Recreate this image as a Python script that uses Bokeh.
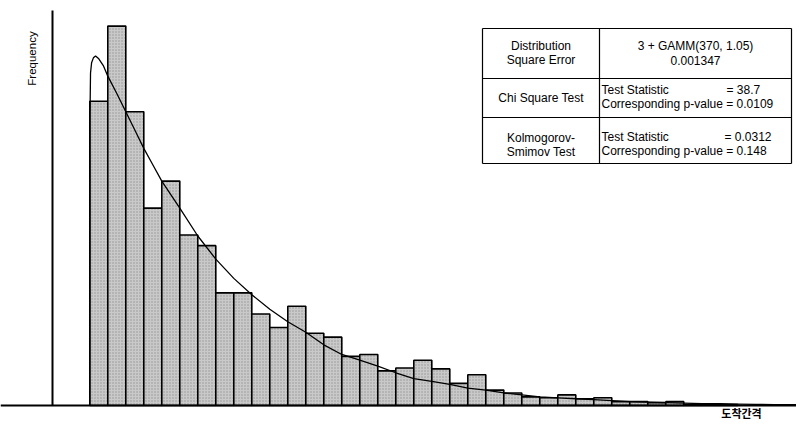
from bokeh.plotting import figure
from bokeh.models import Range1d, Label
from bokeh.embed import file_html
from bokeh.resources import INLINE
import math

# ---- data (bin index on x, frequency in relative units) ----
freq = [316, 394, 305, 205, 233, 177, 166, 117, 117, 95, 81, 103, 75, 71, 51, 53,
        36, 39, 47, 38, 23, 32, 16, 13, 9, 8, 11, 7, 8, 4, 4, 3, 4, 1, 1, 1]
bin_left = list(range(len(freq)))
bin_right = [b + 1 for b in bin_left]

# fitted density curve (3 + GAMM(370, 1.05))
curve_x = [0, 0.01, 0.04, 0.1, 0.2, 0.32, 0.5, 0.75, 1, 1.5, 2, 2.5, 3, 3.5, 4, 5, 6, 7, 8,
           9, 10, 11, 12, 13, 14, 15, 16, 17, 18, 19, 20, 21, 22, 23, 24, 25, 26, 27, 28,
           29, 30, 31, 32, 33, 34, 35, 36, 37, 38, 39.7]
curve_y = [0, 300, 345, 356, 361, 363, 360, 353, 342, 324, 305, 286, 267, 250, 233, 205,
           176, 152, 132, 115, 100, 87, 76, 63, 53, 47, 41, 34, 28, 25, 22, 18, 16, 13, 11,
           9, 8, 7, 6, 5, 4, 3.5, 3, 2.5, 2, 1.8, 1.5, 1.2, 1, 0.8]

table_left_col = [["Distribution", "Square Error"], ["Chi Square Test"], ["Kolmogorov-", "Smimov Test"]]
fit_expr = "3 + GAMM(370, 1.05)"
sq_error = "0.001347"
chi_stat, chi_p = "38.7", "0.0109"
ks_stat, ks_p = "0.0312", "0.148"

x_label = "도착간격"
y_label = "Frequency"

# ---- layout ----
W, H = 796, 421
BIN_PX = 18.0
X0_PX = 89.3      # px of bin 0 left edge
BASE_PX = 405.0   # px of zero frequency
Y_SCALE = 0.963   # px per frequency unit

def dx(px):  # px -> data x
    return (px - X0_PX) / BIN_PX

def dy(py):  # px (from top) -> data y
    return (BASE_PX - py) / Y_SCALE

p = figure(width=W, height=H, output_backend="svg", toolbar_location=None,
           x_range=Range1d(dx(0), dx(W)), y_range=Range1d(dy(H), dy(0)),
           x_axis_type=None, y_axis_type=None, min_border=0,
           min_border_left=0, min_border_right=0, min_border_top=0, min_border_bottom=0)
p.grid.visible = False
p.outline_line_color = None
p.background_fill_color = "white"
p.border_fill_color = "white"

# bars
p.quad(left=bin_left, right=bin_right, bottom=0, top=freq,
       fill_color="#c9c9c9", line_color="black", line_width=1.6,
       hatch_pattern="dot", hatch_color="#6e6e6e", hatch_scale=3, hatch_weight=1, hatch_alpha=0.6)

# curve
p.line(curve_x, curve_y, line_color="black", line_width=1.3)

# axes lines
p.segment(x0=[dx(0)], y0=[0], x1=[dx(W)], y1=[0], line_color="black", line_width=2)
p.segment(x0=[dx(52)], y0=[0], x1=[dx(52)], y1=[dy(10)], line_color="black", line_width=2)

# axis labels
p.add_layout(Label(x=dx(31), y=dy(58), text=y_label, angle=math.pi / 2,
                   text_align="center", text_baseline="middle",
                   text_font="Liberation Sans", text_font_size="11.5px", text_color="black"))
p.add_layout(Label(x=dx(741), y=dy(420.5), text=x_label,
                   text_align="center", text_baseline="bottom",
                   text_font="Noto Sans CJK KR", text_font_size="11px", text_font_style="bold",
                   text_color="black"))

# ---- statistics table ----
tl, tm, tr = 482, 599, 791
rows = [28, 78, 117, 163]
xs0 = [tl, tl, tl, tl, tl, tm, tr]
ys0 = rows + [rows[0], rows[0], rows[0]]
xs1 = [tr, tr, tr, tr, tl, tm, tr]
ys1 = rows + [rows[-1], rows[-1], rows[-1]]
p.rect(x=[(dx(tl) + dx(tr)) / 2], y=[(dy(rows[0]) + dy(rows[-1])) / 2],
       width=[dx(tr) - dx(tl)], height=[dy(rows[0]) - dy(rows[-1])],
       fill_color="white", line_color=None)
p.segment(x0=[dx(v) for v in xs0], y0=[dy(v) for v in ys0],
          x1=[dx(v) for v in xs1], y1=[dy(v) for v in ys1],
          line_color="black", line_width=1.2)

def txt(x, y, s, align="left"):
    p.add_layout(Label(x=dx(x), y=dy(y), text=s, text_align=align, text_baseline="middle",
                       text_font="Liberation Sans", text_font_size="12px", text_color="black"))

lc = (tl + tm) / 2
rc = (tm + tr) / 2
txt(lc, 45, table_left_col[0][0], "center")
txt(lc, 59, table_left_col[0][1], "center")
txt(lc, 97, table_left_col[1][0], "center")
txt(lc, 137, table_left_col[2][0], "center")
txt(lc, 151, table_left_col[2][1], "center")
txt(rc, 45, fit_expr, "center")
txt(rc, 60, sq_error, "center")
txt(601, 89, "Test Statistic")
txt(726, 89, "= " + chi_stat)
txt(601, 103, "Corresponding p-value = " + chi_p)
txt(601, 136, "Test Statistic")
txt(724, 136, "= " + ks_stat)
txt(601, 150, "Corresponding p-value = " + ks_p)

open("out.html", "w").write(file_html(p, INLINE))
